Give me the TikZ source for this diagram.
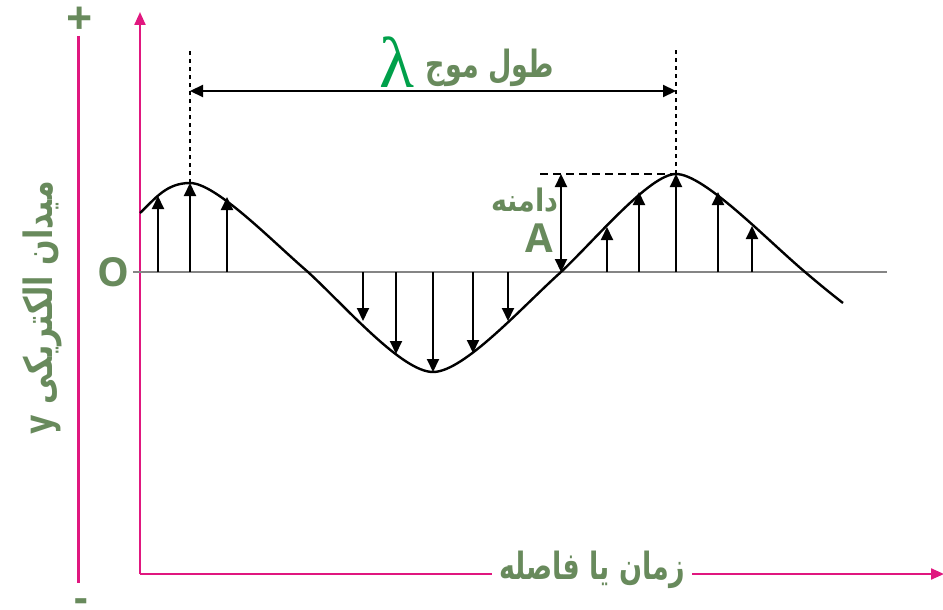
\documentclass[tikz,border=0pt]{standalone}
\usepackage{fontspec}
\usetikzlibrary{positioning, arrows.meta}
\setmainfont{Open Sans}
\newfontfamily\arabicfont[Script=Arabic]{DejaVu Sans}
\newfontfamily\greekfont{Liberation Serif}
\TeXXeTstate=1
\definecolor{axisMagenta}{HTML}{E0177F}
\definecolor{labelGreen}{HTML}{688A5C}
\definecolor{lambdaGreen}{HTML}{00A04A}
\definecolor{baseGrey}{HTML}{858585}

\begin{document}
\begin{tikzpicture}[x=1pt, y=-1pt, line join=round,
    fieldVec/.style={line width=2pt, -{Triangle[length=13pt, width=12pt]}},
    axisLine/.style={axisMagenta, line width=2.2pt, -{Triangle[length=13pt, width=11pt]}},
    faLabel/.style={text=labelGreen, font=\arabicfont\bfseries\fontsize{#1}{#1}\selectfont, inner sep=1pt}]
  \useasboundingbox (0,0) rectangle (943,610);

  % axes
  \draw[axisMagenta, line width=3pt] (78,36) -- (78,583);
  \coordinate (orig) at (140,574);
  \coordinate (yTop) at (140,12);
  \coordinate (xEnd) at (944,574);
  \draw[axisLine] (orig) -- (yTop);
  \draw[axisLine] (orig) -- (xEnd);
  \draw[baseGrey, line width=2.2pt] (133,272) -- (887,272);

  \node[text=labelGreen, font=\bfseries\fontsize{46}{46}\selectfont, inner sep=0pt] (plusSign) at (80,21) {+};
  \node[text=labelGreen, font=\bfseries\fontsize{42}{42}\selectfont, inner sep=0pt, anchor=base] (minusSign) at (81,612) {-};
  \node[text=labelGreen, font=\bfseries\fontsize{40}{40}\selectfont, inner sep=0pt] (originLbl) at (113,272) {O};
  \node[faLabel=30, rotate=90] (fieldLbl) at (42,308) {\scalebox{1}[1.3]{\beginR میدان الکتریکی y\endR}};
  \node[faLabel=30, fill=white, inner xsep=7pt] (timeLbl) at (592,570) {\scalebox{0.9}[1.25]{\beginR زمان یا فاصله\endR}};

  % courbe sinusoidale
  \coordinate (w0) at (140,213);
  \coordinate (pk1) at (190,183);
  \coordinate (z1) at (308,272);
  \coordinate (tr) at (433,372);
  \coordinate (z2) at (561,272);
  \coordinate (pk2) at (676,174);
  \coordinate (z3) at (805,272);
  \coordinate (w1) at (843,303);
  \draw[line width=2.4pt]
    (w0) .. controls (155,199) and (166,183) .. (pk1)
         .. controls (216,183) and (273,242) .. (z1)
         .. controls (345,306) and (402,372) .. (tr)
         .. controls (464,372) and (523,306) .. (z2)
         .. controls (596,239) and (650,174) .. (pk2)
         .. controls (704,174) and (766,239) .. (z3)
         .. controls (818,283) and (830,293) .. (w1);

  \foreach \x/\y in {158/196, 190/183, 227/197, 363/321, 396/354, 433/372,
                     473/353, 508/321, 607/227, 639/192, 676/174, 718/192, 752/226} {
    \draw[fieldVec] (\x,272) -- (\x,\y);
  }

  % longueur d'onde
  \coordinate (lamL) at (190,91);
  \coordinate (lamR) at (676,91);
  \draw[line width=2pt, dash pattern=on 4pt off 4pt] (pk1) -- (190,50);
  \draw[line width=2pt, dash pattern=on 4pt off 4pt] (pk2) -- (676,47);
  \draw[line width=2.2pt, {Triangle[length=13pt, width=12pt]}-{Triangle[length=13pt, width=12pt]}] (lamL) -- (lamR);
  \node[faLabel=30] (wlLbl) at (490,68) {\scalebox{0.9}[1.25]{\beginR طول موج\endR}};
  \node[text=lambdaGreen, font=\greekfont\fontsize{72}{72}\selectfont, inner sep=0pt] (lambdaLbl) at (397,62) {λ};

  % amplitude
  \draw[line width=2pt, dash pattern=on 8pt off 5pt] (540,174) -- (pk2);
  \draw[line width=2.2pt, {Triangle[length=13pt, width=12pt]}-{Triangle[length=13pt, width=12pt]}] (z2) -- (z2 |- pk2);
  \node[faLabel=27] (ampLbl) at (525,200) {\scalebox{1}[1.15]{\beginR دامنه\endR}};
  \node[text=labelGreen, font=\bfseries\fontsize{40}{40}\selectfont, inner sep=0pt] (ampSym) at (539,238) {A};
\end{tikzpicture}
\end{document}
